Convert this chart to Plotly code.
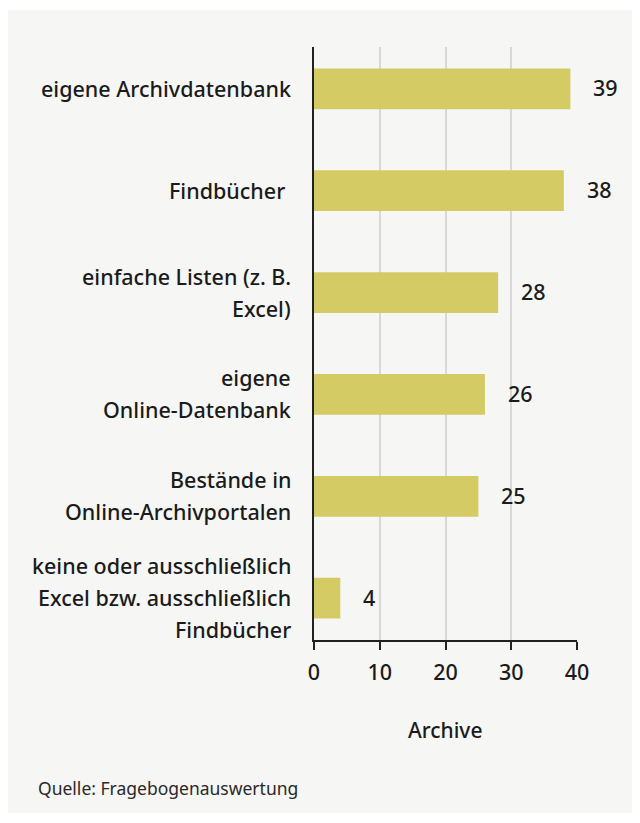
import plotly.graph_objects as go

categories = [
    ["eigene Archivdatenbank"],
    ["Findbücher\u00a0"],
    ["einfache Listen (z. B.", "Excel)"],
    ["eigene", "Online-Datenbank"],
    ["Bestände in", "Online-Archivportalen"],
    ["keine oder ausschließlich", "Excel bzw. ausschließlich", "Findbücher"],
]
values = [39, 38, 28, 26, 25, 4]
x_ticks = [0, 10, 20, 30, 40]
x_title = "Archive"
source = "Quelle: Fragebogenauswertung"

OFF = 8  # page body margin
W, H = 640, 823
L = 314 - OFF
T = 47 - OFF
R = W - (577 - OFF)
B = H - (640 - OFF)
pw, ph = W - L - R, H - T - B
FONT = "Noto Sans"
TXT = "#1b1b1b"
BG = "#f6f6f4"
BAR = "#d4cb65"

ypos = list(range(len(values)))
fig = go.Figure(go.Bar(
    x=values, y=ypos, orientation="h", marker_color=BAR, marker_line_width=0,
    width=0.4, hoverinfo="skip",
))

def px_x(p):
    return (p - OFF - L) / pw

def px_y(p):
    return (H - B - (p - OFF)) / ph

# gray card background
fig.add_shape(type="rect", xref="paper", yref="paper", layer="below",
              x0=px_x(0), x1=px_x(660), y0=px_y(813), y1=px_y(10),
              fillcolor=BG, line_width=0)

ann = []
for i, (lines, v) in enumerate(zip(categories, values)):
    n = len(lines)
    for j, line in enumerate(lines):
        off = (j - (n - 1) / 2) * 32 - 0.5
        ann.append(dict(x=0, xref="paper", y=i, yref="y", text=line, showarrow=False,
                        xanchor="right", yanchor="middle", xshift=-21, yshift=-off,
                        font=dict(family=FONT, size=21.5, color=TXT, weight=500)))
    ann.append(dict(x=v, xref="x", y=i, yref="y", text=str(v), showarrow=False,
                    xanchor="left", yanchor="middle", xshift=21, yshift=1,
                    font=dict(family=FONT, size=21.5, color=TXT, weight=500)))

ann.append(dict(x=0.5, xref="paper", y=px_y(730), yref="paper", text=x_title,
                showarrow=False, xanchor="center", yanchor="middle",
                font=dict(family=FONT, size=21, color=TXT, weight=500)))
ann.append(dict(x=px_x(36), xref="paper", y=px_y(788), yref="paper", text=source,
                showarrow=False, xanchor="left", yanchor="middle",
                font=dict(family=FONT, size=17.5, color="#2a2a2a")))

fig.update_layout(
    width=W, height=H,
    margin=dict(l=L, r=R, t=T, b=B, pad=0),
    paper_bgcolor="white", plot_bgcolor="rgba(0,0,0,0)",
    showlegend=False, annotations=ann,
    xaxis=dict(range=[0, 40], tickvals=x_ticks, showgrid=True, gridcolor="#d8d8d6",
               gridwidth=1.5, zeroline=False, showline=True, linecolor="#222",
               linewidth=1.5, ticks="outside", ticklen=8, tickcolor="#222", tickwidth=1.5,
               ticklabelstandoff=4,
               tickfont=dict(family=FONT, size=21.5, color=TXT, weight=500), fixedrange=True),
    yaxis=dict(range=[5.41, -0.41], showticklabels=False, showgrid=False, zeroline=False,
               showline=True, linecolor="#222", linewidth=1.5, ticks="", fixedrange=True),
)
fig.update_traces(cliponaxis=False)
fig.write_html("out.html")
